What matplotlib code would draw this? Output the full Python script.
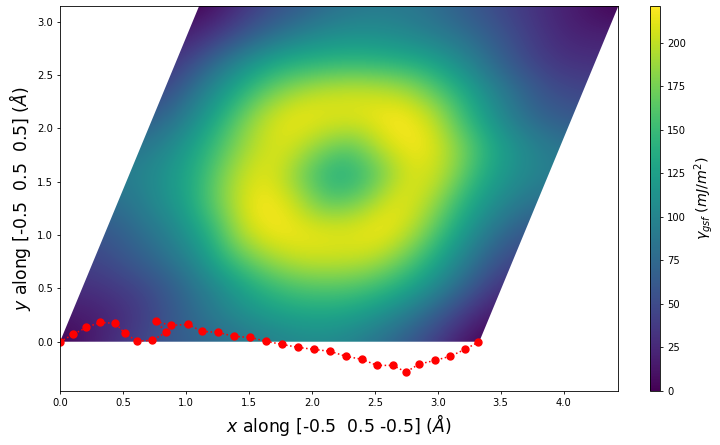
import numpy as np
import matplotlib
matplotlib.use("Agg")
import matplotlib.pyplot as plt
from matplotlib.patches import Polygon
from matplotlib.transforms import Affine2D

# Lattice vectors of the stacking-fault plane (Angstrom)
a1 = (3.33, 0.0)
a2 = (1.105, 3.147)

# Fault energy (mJ/m^2) read on a grid; first row is y=0, each row runs along a1
gamma = [
    [  0,  18,  38,  58,  68,  80,  94, 104, 102,  85,  62,  32,   0],
    [ 15,  22,  38,  62,  88, 110, 125, 130, 126, 108,  80,  45,  15],
    [ 30,  38,  52,  78, 108, 140, 160, 165, 160, 142, 110,  68,  30],
    [ 45,  60,  80, 108, 158, 192, 207, 205, 200, 170, 124,  78,  45],
    [ 60,  80, 102, 142, 208, 226, 216, 210, 220, 188, 132,  88,  60],
    [ 80, 102, 128, 182, 228, 210, 160, 175, 216, 192, 136, 102,  80],
    [ 95, 112, 142, 196, 216, 168, 128, 158, 212, 200, 142, 110,  95],
    [ 85, 108, 146, 190, 212, 184, 162, 210, 228, 188, 136, 105,  85],
    [ 65,  96, 142, 194, 218, 210, 214, 230, 206, 146, 102,  72,  60],
    [ 45,  90, 132, 172, 194, 204, 204, 192, 155, 115,  80,  52,  45],
    [ 35,  72, 110, 136, 142, 146, 142, 133, 110,  78,  48,  32,  30],
    [ 20,  40,  68,  90, 106, 110, 105,  94,  78,  56,  35,  22,  20],
    [  0,  25,  50,  66,  82,  90,  87,  74,  56,  40,  25,  12,   0],
]

path_x = [0.0, 0.106, 0.209, 0.318, 0.44, 0.516, 0.612, 0.733, 0.842, 0.765, 0.882,
          1.017, 1.128, 1.255, 1.382, 1.512, 1.636, 1.763, 1.891, 2.017, 2.145,
          2.272, 2.399, 2.518, 2.645, 2.748, 2.851, 2.979, 3.098, 3.217, 3.32]
path_y = [0.0, 0.069, 0.134, 0.181, 0.172, 0.078, 0.006, 0.0125, 0.0875, 0.19, 0.153,
          0.162, 0.097, 0.0875, 0.05, 0.04, 0.004, -0.025, -0.053, -0.072, -0.09,
          -0.137, -0.165, -0.222, -0.222, -0.285, -0.21, -0.175, -0.137, -0.072, -0.005]

cbar_ticks = [0, 25, 50, 75, 100, 125, 150, 175, 200]

W, H = 720, 445
fig = plt.figure(figsize=(W / 100, H / 100), dpi=100, facecolor="white")


def box(l, t, r, b):
    return [l / W, 1 - b / H, (r - l) / W, (b - t) / H]


ax = fig.add_axes(box(60, 6, 618, 391))
cax = fig.add_axes(box(650, 6, 660, 391))

z = np.array(gamma, dtype=float)
ny, nx = z.shape
# image in lattice (fractional) coordinates, sheared onto the axes
du, dv = 0.5 / (nx - 1), 0.5 / (ny - 1)
shear = Affine2D(np.array([[a1[0], a2[0], 0.0], [a1[1], a2[1], 0.0], [0.0, 0.0, 1.0]]))
im = ax.imshow(z, origin="lower", extent=[-du, 1 + du, -dv, 1 + dv], aspect="auto",
               interpolation="bicubic", cmap="viridis", vmin=0, vmax=221,
               transform=shear + ax.transData)
cell = Polygon([(0, 0), a1, (a1[0] + a2[0], a1[1] + a2[1]), a2], closed=True,
               transform=ax.transData, facecolor="none", edgecolor="none")
ax.add_patch(cell)
im.set_clip_path(cell)

ax.plot(path_x, path_y, ":", color="red", marker="o", markersize=5, linewidth=1.1)

ax.set_xlim(0, 4.432)
ax.set_ylim(-0.462, 3.147)
ax.set_xticks(np.arange(0, 4.5, 0.5))
ax.set_yticks(np.arange(0, 3.5, 0.5))
ax.tick_params(labelsize=7.2, length=2.5, width=0.6, pad=2.5)
ax.set_xlabel(r"$x$ along [-0.5  0.5 -0.5] ($\AA$)", fontsize=12.4, labelpad=3)
ax.set_ylabel(r"$y$ along [-0.5  0.5  0.5] ($\AA$)", fontsize=12.4, labelpad=3)
for s in ax.spines.values():
    s.set_linewidth(0.6)

cb = fig.colorbar(im, cax=cax)
cb.set_ticks(cbar_ticks)
cb.ax.tick_params(labelsize=7.2, length=2.5, width=0.6, pad=2.5)
cb.outline.set_linewidth(0.6)
cb.set_label(r"$\gamma_{gsf}\;(mJ/m^2)$", fontsize=10.3, labelpad=4)

fig.savefig("out.png", dpi=100, facecolor="white")
